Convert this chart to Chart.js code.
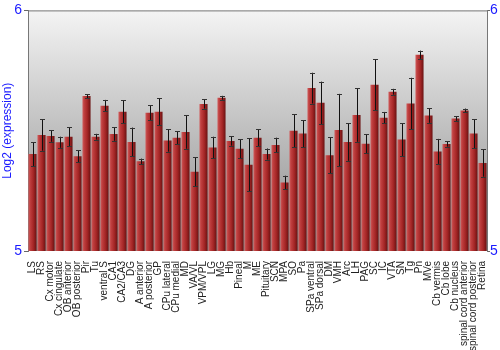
<!DOCTYPE html>
<html>
<head>
<meta charset="utf-8">
<script src="https://cdn.jsdelivr.net/npm/chart.js@4"></script>
<style>
  html, body { margin: 0; padding: 0; background: #fff; }
  #wrap { width: 500px; height: 350px; }
</style>
</head>
<body>
<div id="wrap"><canvas id="chart"></canvas></div>
<script>
// regions along the x axis
const regions = [
  'LS', 'RS', 'Cx motor', 'Cx cingulate', 'OB anterior', 'OB posterior', 'Pir', 'Tu',
  'ventral S', 'CA1', 'CA2/CA3', 'DG', 'A anterior', 'A posterior', 'GP', 'CPu lateral',
  'CPu medial', 'MD', 'VA/VL', 'VPM/VPL', 'LG', 'MG', 'Hb', 'Pineal', 'M', 'ME',
  'Pituitary', 'SCN', 'MPA', 'SO', 'Pa', 'SPa ventral', 'SPa dorsal', 'DM', 'VMH', 'Arc',
  'LH', 'PAG', 'SC', 'IC', 'VTA', 'SN', 'Tg', 'Pn', 'MVe', 'Cb vermis', 'Cb lobe',
  'Cb nucleus', 'spinal cord anterior', 'spinal cord posterior', 'Retina'
];

// log2 expression
const expression = [
  5.403, 5.482, 5.478, 5.452, 5.475, 5.394, 5.644, 5.475,
  5.604, 5.486, 5.579, 5.453, 5.373, 5.575, 5.579, 5.459,
  5.471, 5.495, 5.329, 5.611, 5.430, 5.637, 5.457, 5.425, 5.358, 5.471,
  5.403, 5.441, 5.285, 5.500, 5.488, 5.677, 5.616, 5.398, 5.503, 5.453,
  5.565, 5.446, 5.691, 5.554, 5.662, 5.463, 5.613, 5.816, 5.563, 5.414, 5.445,
  5.551, 5.584, 5.488, 5.366
];

// +/- error
const errors = [
  0.050, 0.065, 0.024, 0.023, 0.040, 0.024, 0.008, 0.012,
  0.024, 0.028, 0.048, 0.060, 0.011, 0.030, 0.055, 0.046,
  0.027, 0.070, 0.060, 0.019, 0.045, 0.008, 0.019, 0.040, 0.110, 0.035,
  0.023, 0.030, 0.028, 0.068, 0.056, 0.064, 0.088, 0.074, 0.150, 0.078,
  0.111, 0.039, 0.106, 0.024, 0.012, 0.068, 0.107, 0.017, 0.030, 0.052, 0.011,
  0.010, 0.008, 0.060, 0.057
];

const yTicks = [5, 6];

const blue = '#1a1aff';
const font = 'Liberation Sans, Arial, sans-serif';

// gray gradient behind the plot + top border
const plotBackground = {
  id: 'plotBackground',
  beforeDraw(chart) {
    const { ctx, chartArea: a } = chart;
    const g = ctx.createLinearGradient(0, a.top, 0, a.bottom);
    g.addColorStop(0, '#f4f4f4');
    g.addColorStop(1, '#8a8a8a');
    ctx.save();
    ctx.fillStyle = g;
    ctx.fillRect(a.left, a.top, a.right - a.left, a.bottom - a.top);
    ctx.strokeStyle = '#777';
    ctx.lineWidth = 1;
    ctx.beginPath();
    ctx.moveTo(a.left, a.top + 0.5);
    ctx.lineTo(a.right, a.top + 0.5);
    ctx.stroke();
    ctx.restore();
  }
};

// shaded red per bar, needs the bar's own x
const barShading = {
  id: 'barShading',
  beforeDatasetsDraw(chart) {
    const ctx = chart.ctx;
    chart.getDatasetMeta(0).data.forEach(bar => {
      const x0 = bar.x - bar.width / 2;
      const x1 = bar.x + bar.width / 2;
      const g = ctx.createLinearGradient(x0, 0, x1, 0);
      g.addColorStop(0, '#d06060');
      g.addColorStop(0.2, '#c04040');
      g.addColorStop(0.6, '#a52626');
      g.addColorStop(1, '#6a1212');
      bar.options.backgroundColor = g;
    });
  }
};

const errorBars = {
  id: 'errorBars',
  afterDatasetsDraw(chart) {
    const ctx = chart.ctx;
    const y = chart.scales.y;
    ctx.save();
    chart.getDatasetMeta(0).data.forEach((bar, i) => {
      const x = Math.round(bar.x) + 0.5;
      const top = y.getPixelForValue(expression[i] + errors[i]);
      const bot = y.getPixelForValue(expression[i] - errors[i]);
      ctx.strokeStyle = '#111';
      ctx.lineWidth = 1;
      ctx.beginPath();
      ctx.moveTo(x, top);
      ctx.lineTo(x, bot);
      ctx.stroke();
      ctx.strokeStyle = '#333';
      ctx.beginPath();
      ctx.moveTo(x - 2.5, Math.round(top) + 0.5);
      ctx.lineTo(x + 2.5, Math.round(top) + 0.5);
      ctx.moveTo(x - 2.5, Math.round(bot) + 0.5);
      ctx.lineTo(x + 2.5, Math.round(bot) + 0.5);
      ctx.stroke();
    });
    ctx.restore();
  }
};

const tickOpts = {
  color: blue,
  font: { family: font, size: 14 },
  autoSkip: false,
  stepSize: 1,
  callback: v => (yTicks.includes(v) ? String(v) : '')
};

new Chart(document.getElementById('chart'), {
  type: 'bar',
  data: {
    labels: regions,
    datasets: [{
      data: expression,
      backgroundColor: () => '#a52626',
      borderWidth: 0,
      categoryPercentage: 1,
      barPercentage: 0.9
    }]
  },
  options: {
    responsive: true,
    maintainAspectRatio: false,
    animation: false,
    layout: { padding: { top: 9, right: 0, left: 0, bottom: 0 } },
    plugins: {
      legend: { display: false },
      tooltip: { enabled: false }
    },
    scales: {
      x: {
        grid: { display: false },
        border: { display: false },
        ticks: {
          color: '#222',
          font: { family: font, size: 10 },
          minRotation: 90,
          maxRotation: 90,
          autoSkip: false,
          padding: 2
        },
        afterFit: s => { s.height = 99; }
      },
      y: {
        position: 'left',
        min: 5,
        max: 6,
        ticks: { ...tickOpts, padding: 2 },
        grid: { drawOnChartArea: false, color: '#666', tickLength: 4 },
        border: { color: '#777' },
        title: {
          display: true,
          text: 'Log2 (expression)',
          color: blue,
          padding: { top: 0, bottom: 0 },
          font: { family: font, size: 12 }
        },
        afterFit: s => { s.width = 28; }
      },
      y2: {
        position: 'right',
        min: 5,
        max: 6,
        ticks: { ...tickOpts, padding: 0 },
        grid: { drawOnChartArea: false, color: '#666', tickLength: 3 },
        border: { color: '#777' },
        afterFit: s => { s.width = 13; }
      }
    }
  },
  plugins: [plotBackground, barShading, errorBars]
});
</script>
</body>
</html>
